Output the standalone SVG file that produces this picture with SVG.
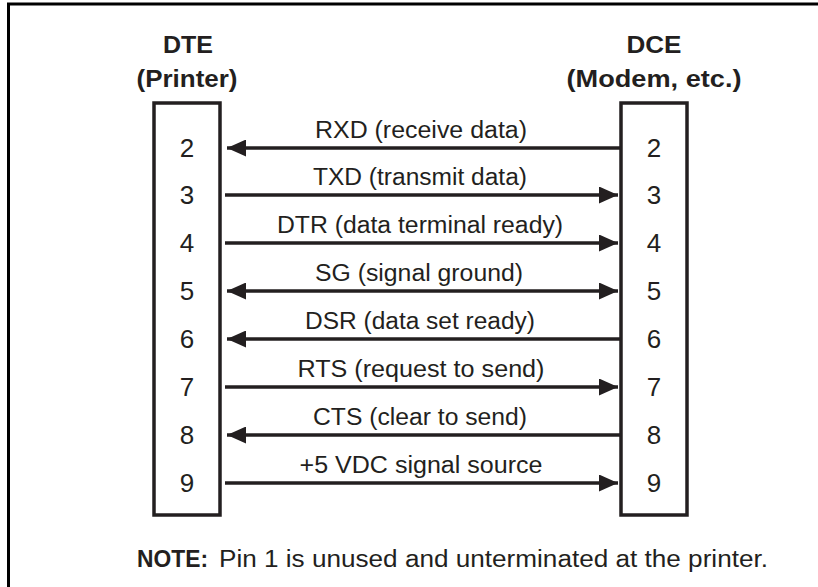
<svg xmlns="http://www.w3.org/2000/svg" width="818" height="587" viewBox="0 0 818 587">
<style>
.t{font-family:"Liberation Sans",Arial,Helvetica,sans-serif;fill:#231f20}
.h{font-size:24px;font-weight:bold;text-anchor:middle}
.pin{font-size:26px;text-anchor:middle}
.lbl{font-size:23px;text-anchor:middle}
.note{font-size:23px}
.box{fill:none;stroke:#231f20;stroke-width:3.5}
.w{stroke:#231f20;stroke-width:3.5;fill:none}
</style>
<defs>
<marker id="ah" viewBox="0 0 19 17" refX="19" refY="8.5" markerWidth="19" markerHeight="17" markerUnits="userSpaceOnUse" orient="auto-start-reverse">
<path d="M0,0 L19,8.5 L0,17 Z" fill="#231f20"/>
</marker>
</defs>
<rect width="818" height="587" fill="#fff"/>
<path d="M8.5,590 V4 H820" fill="none" stroke="#000" stroke-width="3"/>
<g id="dte">
<text class="t h" x="188" y="53" textLength="50" lengthAdjust="spacingAndGlyphs">DTE</text>
<text class="t h" x="187" y="87" textLength="101" lengthAdjust="spacingAndGlyphs">(Printer)</text>
<rect class="box" x="154" y="103" width="66" height="412"/>
<text class="t pin" x="187" y="157">2</text>
<text class="t pin" x="187" y="204">3</text>
<text class="t pin" x="187" y="252">4</text>
<text class="t pin" x="187" y="300">5</text>
<text class="t pin" x="187" y="348">6</text>
<text class="t pin" x="187" y="396">7</text>
<text class="t pin" x="187" y="444">8</text>
<text class="t pin" x="187" y="492">9</text>
</g>
<g id="dce">
<text class="t h" x="654" y="53" textLength="55" lengthAdjust="spacingAndGlyphs">DCE</text>
<text class="t h" x="654" y="87" textLength="175" lengthAdjust="spacingAndGlyphs">(Modem, etc.)</text>
<rect class="box" x="621" y="103" width="66" height="412"/>
<text class="t pin" x="654" y="157">2</text>
<text class="t pin" x="654" y="204">3</text>
<text class="t pin" x="654" y="252">4</text>
<text class="t pin" x="654" y="300">5</text>
<text class="t pin" x="654" y="348">6</text>
<text class="t pin" x="654" y="396">7</text>
<text class="t pin" x="654" y="444">8</text>
<text class="t pin" x="654" y="492">9</text>
</g>
<g id="connectors">
<line class="w" x1="621" y1="148" x2="227" y2="148" marker-end="url(#ah)"/>
<line class="w" x1="225" y1="195" x2="618" y2="195" marker-end="url(#ah)"/>
<line class="w" x1="225" y1="243" x2="618" y2="243" marker-end="url(#ah)"/>
<line class="w" x1="227" y1="291" x2="618" y2="291" marker-start="url(#ah)" marker-end="url(#ah)"/>
<line class="w" x1="621" y1="339" x2="227" y2="339" marker-end="url(#ah)"/>
<line class="w" x1="225" y1="387" x2="618" y2="387" marker-end="url(#ah)"/>
<line class="w" x1="621" y1="435" x2="227" y2="435" marker-end="url(#ah)"/>
<line class="w" x1="225" y1="483" x2="618" y2="483" marker-end="url(#ah)"/>
</g>
<g id="labels">
<text class="t lbl" x="421" y="138" textLength="212" lengthAdjust="spacingAndGlyphs">RXD (receive data)</text>
<text class="t lbl" x="420" y="185" textLength="214" lengthAdjust="spacingAndGlyphs">TXD (transmit data)</text>
<text class="t lbl" x="420" y="233" textLength="286" lengthAdjust="spacingAndGlyphs">DTR (data terminal ready)</text>
<text class="t lbl" x="419" y="281" textLength="208" lengthAdjust="spacingAndGlyphs">SG (signal ground)</text>
<text class="t lbl" x="420" y="329" textLength="230" lengthAdjust="spacingAndGlyphs">DSR (data set ready)</text>
<text class="t lbl" x="421" y="377" textLength="247" lengthAdjust="spacingAndGlyphs">RTS (request to send)</text>
<text class="t lbl" x="420" y="425" textLength="214" lengthAdjust="spacingAndGlyphs">CTS (clear to send)</text>
<text class="t lbl" x="421" y="473" textLength="243" lengthAdjust="spacingAndGlyphs">+5 VDC signal source</text>
</g>
<g id="note">
<text class="t note" x="137" y="567" font-weight="bold" textLength="71" lengthAdjust="spacingAndGlyphs">NOTE:</text>
<text class="t note" x="219" y="567" textLength="549" lengthAdjust="spacingAndGlyphs">Pin 1 is unused and unterminated at the printer.</text>
</g>
</svg>
